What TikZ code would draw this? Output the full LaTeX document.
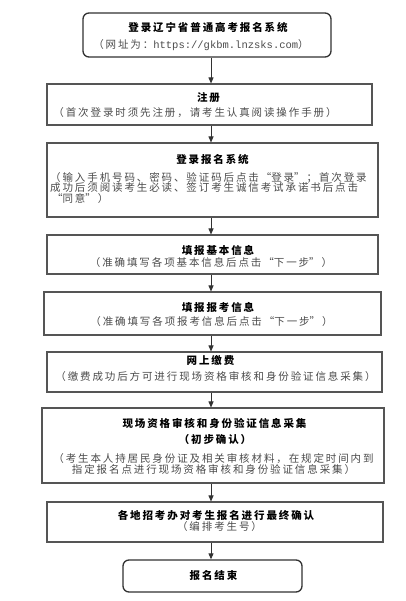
\documentclass[tikz,border=0pt]{standalone}
\usepackage{fontspec}
\usetikzlibrary{arrows.meta}
\newfontfamily\cjk[LetterSpace=18]{Noto Sans CJK SC}
\newfontfamily\urlfont{Liberation Mono}
\newcommand\zhlq{\makebox[12.4pt][r]{“}}
\newcommand\zhrq{\makebox[12.4pt][l]{”}}
\definecolor{bordercol}{RGB}{85,85,85}
\definecolor{darkcol}{RGB}{50,50,50}
\definecolor{subcol}{RGB}{75,75,75}
\tikzset{
  box/.style={draw=bordercol, line width=1.1pt, inner sep=0pt},
  rbox/.style={draw=darkcol, line width=1.3pt, rounded corners=6pt, inner sep=0pt},
  ttl/.style={font=\cjk\bfseries\fontsize{10.5}{11}\selectfont, text=black, inner sep=0pt},
  sub/.style={font=\cjk\fontsize{10.5}{10.7}\selectfont, text=subcol, inner sep=0pt},
  arr/.style={draw=darkcol, line width=0.9pt, -{Triangle[length=6pt,width=5pt]}}
}
\begin{document}
\begin{tikzpicture}[x=1pt,y=-1pt]
\fill[white] (0,0) rectangle (406,601);
\useasboundingbox (0,0) rectangle (406,601);
% boxes
\node[rbox, minimum width=248pt, minimum height=44pt] (A) at (207,35) {};
\node[box, minimum width=325pt, minimum height=41pt] (B) at (209.5,104.5) {};
\node[box, minimum width=331pt, minimum height=74pt] (C) at (212.5,180) {};
\node[box, minimum width=331pt, minimum height=39pt] (D) at (212.5,254.5) {};
\node[box, minimum width=337pt, minimum height=43pt] (E) at (212.5,313.5) {};
\node[box, minimum width=335pt, minimum height=40pt] (F) at (214.5,372) {};
\node[box, minimum width=342pt, minimum height=75pt] (G) at (213,445.5) {};
\node[box, minimum width=336pt, minimum height=40pt] (H) at (215,522) {};
\node[rbox, minimum width=179pt, minimum height=32pt] (I) at (212.5,576) {};
% texts
\node[ttl] (At) at (208,28) {登录辽宁省普通高考报名系统};
\node[sub] (As) at (201,45) {（网址为：{\urlfont https://gkbm.lnzsks.com}）};
\node[ttl] (Bt) at (208.5,98) {注册};
\node[sub] (Bs) at (195,113) {（首次登录时须先注册，请考生认真阅读操作手册）};
\node[ttl] (Ct) at (212.5,160) {登录报名系统};
\node[sub, align=left, anchor=west] (Cs) at (50,188) {（输入手机号码、密码、验证码后点击\zhlq 登录\zhrq ；首次登录\\成功后须阅读考生必读、签订考生诚信考试承诺书后点击\\\zhlq 同意\zhrq ）};
\node[ttl] (Dt) at (218,250) {填报基本信息};
\node[sub] (Ds) at (211,263) {（准确填写各项基本信息后点击\zhlq 下一步\zhrq ）};
\node[ttl] (Et) at (218,307) {填报报考信息};
\node[sub] (Es) at (211.5,322) {（准确填写各项报考信息后点击\zhlq 下一步\zhrq ）};
\node[ttl] (Ft) at (210.5,360) {网上缴费};
\node[sub] (Fs) at (215.5,377) {（缴费成功后方可进行现场资格审核和身份验证信息采集）};
\node[ttl] (Gt) at (214.5,423) {现场资格审核和身份验证信息采集};
\node[ttl] (Gt2) at (215,440) {（初步确认）};
\node[sub, align=center] (Gs) at (213.5,464) {（考生本人持居民身份证及相关审核材料，在规定时间内到\\指定报名点进行现场资格审核和身份验证信息采集）};
\node[ttl] (Ht) at (216,515) {各地招考办对考生报名进行最终确认};
\node[sub] (Hs) at (219.5,527) {（编排考生号）};
\node[ttl] (It) at (213.5,575) {报名结束};
% arrows
\coordinate (ax) at (211,0);
\draw[arr] (A.south -| ax) -- (B.north -| ax);
\draw[arr] (B.south -| ax) -- (C.north -| ax);
\draw[arr] (C.south -| ax) -- (D.north -| ax);
\draw[arr] (D.south -| ax) -- (E.north -| ax);
\draw[arr] (E.south -| ax) -- (F.north -| ax);
\draw[arr] (F.south -| ax) -- (G.north -| ax);
\draw[arr] (G.south -| ax) -- (H.north -| ax);
\draw[arr] (H.south -| ax) -- (I.north -| ax);
\end{tikzpicture}
\end{document}
